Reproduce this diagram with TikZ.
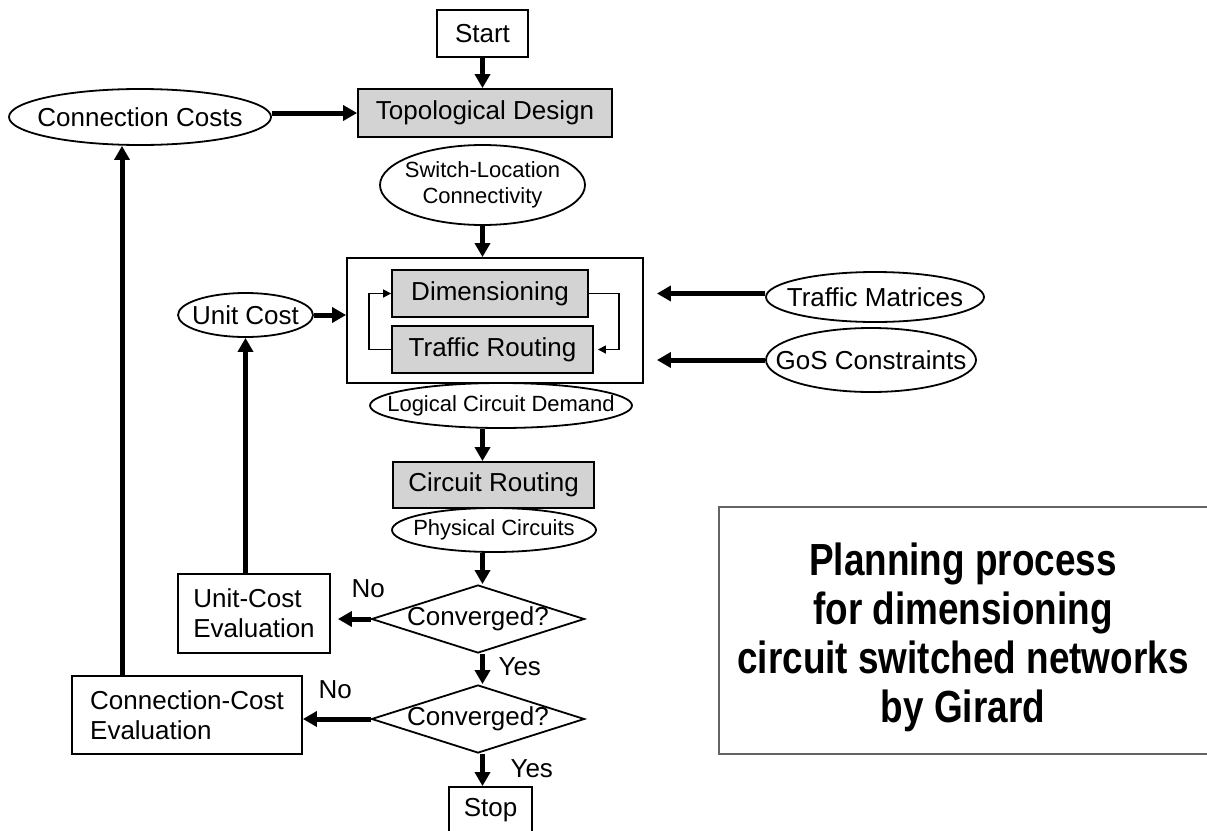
\documentclass[tikz,border=0pt]{standalone}
\usepackage{fontspec}
\setmainfont{Liberation Sans}
\newfontfamily\titlefont[FakeStretch=0.82]{Liberation Sans}
\usetikzlibrary{arrows.meta,shapes.geometric}
\definecolor{boxgray}{RGB}{211,211,211}
\definecolor{framegray}{RGB}{100,100,100}
\newcommand{\zw}[1]{\makebox[0pt]{#1}}
\begin{document}
\begin{tikzpicture}[x=1pt,y=-1pt,
  every node/.style={font=\fontsize{26}{30}\selectfont},
  box/.style={draw, line width=1.8pt, rectangle, inner sep=0pt},
  shaded/.style={box, fill=boxgray},
  oval/.style={draw, ellipse, line width=1.8pt, inner sep=0pt},
  small/.style={font=\fontsize{22}{26}\selectfont},
  decision/.style={draw, diamond, line width=1.8pt, inner sep=0pt},
  flow/.style={line width=5pt, -{Triangle[length=14pt,width=15pt]}},
  loopline/.style={line width=1.5pt, -{Triangle[length=8pt,width=8pt]}},
  lbl/.style={anchor=base west},
  titletext/.style={font=\titlefont\bfseries\fontsize{45}{49}\selectfont, align=center},
  titleframe/.style={draw=framegray, line width=1.5pt}
]
\useasboundingbox (0,0) rectangle (1207,830);

% nodes
\node[box, minimum width=91pt, minimum height=47pt] (start) at (482.5,33.5) {Start};
\node[shaded, minimum width=254pt, minimum height=48pt] (topo) at (485,113) {Topological Design};
\node[oval, minimum width=262pt, minimum height=56pt] (cc) at (140,117) {\zw{Connection Costs}};
\node[oval, small, minimum width=205pt, minimum height=80pt] (switch) at (482.5,185)
  {\zw{\begin{tabular}{@{}c@{}}Switch-Location\\Connectivity\end{tabular}}};
\node[box, minimum width=296pt, minimum height=125pt] (proc) at (495,320.5) {};
\node[shaded, minimum width=196pt, minimum height=47pt] (dim) at (490,293.5) {Dimensioning};
\node[shaded, minimum width=201pt, minimum height=47pt] (tr) at (492.5,349.5) {Traffic Routing};
\node[oval, minimum width=135pt, minimum height=44pt] (uc) at (245.5,315) {\zw{Unit Cost}};
\node[oval, minimum width=218pt, minimum height=50pt] (tm) at (875,297) {\zw{Traffic Matrices}};
\node[oval, minimum width=210pt, minimum height=64pt] (gos) at (871,360) {\zw{GoS Constraints}};
\node[oval, small, minimum width=262pt, minimum height=45pt] (lcd) at (501,405.5) {\zw{Logical Circuit Demand}};
\node[shaded, minimum width=201pt, minimum height=46pt] (cr) at (493.5,485) {Circuit Routing};
\node[oval, small, minimum width=204pt, minimum height=44pt] (pc) at (494,530) {\zw{Physical Circuits}};
\node[decision, minimum width=213pt, minimum height=68pt] (d1) at (478,619) {\zw{Converged?}};
\node[decision, minimum width=213pt, minimum height=68pt] (d2) at (478,719) {\zw{Converged?}};
\node[box, minimum width=83pt, minimum height=47pt] (stop) at (490.5,810.5) {Stop};
\node[box, align=left, minimum width=152pt, minimum height=79pt] (uce) at (254,613.5) {Unit-Cost\\Evaluation};
\node[box, align=left, minimum width=230pt, minimum height=78pt] (cce) at (187,715) {Connection-Cost\\Evaluation};

% labels
\node[lbl] (no1) at (348,597) {No};
\node[lbl] (no2) at (315,698) {No};
\node[lbl] (yes1) at (495,675) {Yes};
\node[lbl] (yes2) at (507,777) {Yes};

% title
\node[titletext] (title) at (963,637) {Planning process\\for dimensioning\\circuit switched networks\\by Girard};
\draw[titleframe] (719,507) rectangle (1215,754);

% connectors
\draw[flow] (start.south) -- (start.south |- topo.north);
\draw[flow] (cc.east |- topo) -- (topo.west);
\draw[flow] (switch.south -| start) -- (proc.north -| start);
\draw[flow] (lcd.south -| start) -- (cr.north -| start);
\draw[flow] (pc.south -| start) -- (d1.north -| start);
\draw[flow] (d1.south -| start) -- (d2.north -| start);
\draw[flow] (d2.south -| start) -- (stop.north -| start);
\draw[flow, shorten >=7pt] (d1.west) -- (uce.east |- d1.west);
\draw[flow] (d2.west) -- (cce.east |- d2.west);
\draw[flow] (uce.north -| uc) -- (uc.south);
\draw[flow] ([xshift=-65pt]cce.north) -- ([xshift=-65pt]cce.north |- cc.south);
\draw[flow] (uc.east) -- (proc.west |- uc.east);
\draw[flow, shorten >=13pt] (dim -| tm.west) -- (dim -| proc.east);
\draw[flow, shorten >=13pt] (gos.west) -- (proc.east |- gos.west);
\draw[loopline] (tr.west) -- ++(-22pt,0) |- (dim.west);
\draw[loopline, shorten >=4pt] (dim.east) -- ++(30pt,0) |- (tr.east);
\end{tikzpicture}
\end{document}
